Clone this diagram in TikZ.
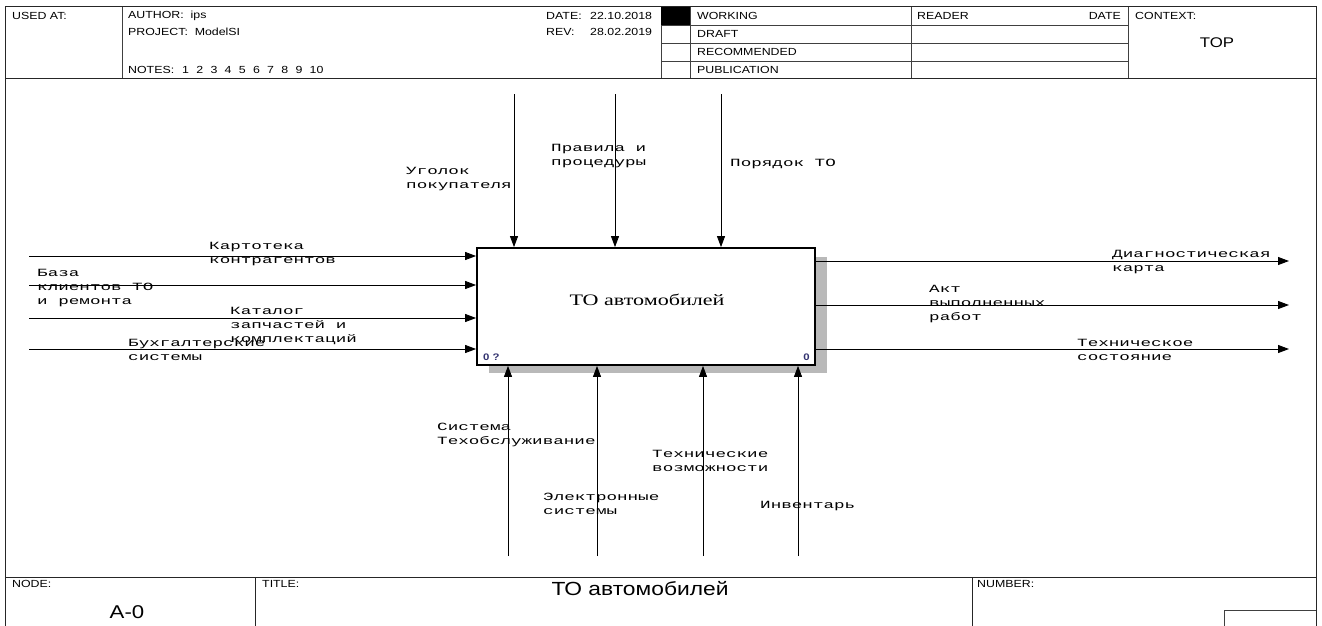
\documentclass[tikz,border=0pt]{standalone}
\usepackage{fontspec}
\setmainfont{Liberation Sans}[FakeStretch=1.2]
\newfontfamily\labfont{Liberation Mono}[FakeStretch=1.6]
\newfontfamily\boxfont{Liberation Serif}[FakeStretch=1.38]
\usetikzlibrary{arrows.meta}
\begin{document}
\begin{tikzpicture}[x=1pt,y=-1pt,
  frame/.style={line width=1pt, draw=black!85},
  thinline/.style={line width=0.7pt, draw=black!75},
  hdr/.style={anchor=west, inner sep=0pt, font=\fontsize{10.3}{11}\selectfont},
  lab/.style={anchor=base west, inner sep=0pt, align=left, font=\labfont\fontsize{11}{14}\selectfont},
  arr/.style={line width=0.9pt, -{Triangle[length=11pt,width=8pt]}},
  corner/.style={inner sep=0pt, font=\bfseries\fontsize{9.5}{10}\selectfont, text=black!70!blue!80}
]
\useasboundingbox (0,0) rectangle (1322,626);
% frame
\draw[frame] (5,626) -- (5,7) -- (1316,7) -- (1316,626);
\draw[frame] (5,78) -- (1316,78);
\draw[frame] (5,577) -- (1316,577);
\foreach \x in {122,661,690,911,1128} \draw[thinline] (\x,7) -- (\x,78);
\fill (661,7) rectangle (690,25);
\foreach \y in {25,43,61} \draw[thinline] (661,\y) -- (1128,\y);
\draw[frame] (255,577) -- (255,626);
\draw[frame] (972,577) -- (972,626);
\draw[thinline] (1224,626) -- (1224,610) -- (1316,610);
% header texts
\node[hdr] (usedat) at (12,16) {USED AT:};
\node[hdr] (author) at (128,16) {AUTHOR:\ \ ips};
\node[hdr] (project) at (128,32) {PROJECT:\ \ ModelSI};
\node[hdr] (notesl) at (128,70) {NOTES:};
\node[hdr] (notesv) at (182,70) {1\hspace{7.3pt}2\hspace{7.3pt}3\hspace{7.3pt}4\hspace{7.3pt}5\hspace{7.3pt}6\hspace{7.3pt}7\hspace{7.3pt}8\hspace{7.3pt}9\hspace{7.3pt}10};
\node[hdr] (datel) at (546,16) {DATE:};
\node[hdr] (datev) at (590,16) {22.10.2018};
\node[hdr] (revl) at (546,32) {REV:};
\node[hdr] (revv) at (590,32) {28.02.2019};
\node[hdr] (working) at (697,16) {WORKING};
\node[hdr] (draft) at (697,34) {DRAFT};
\node[hdr] (recom) at (697,52) {RECOMMENDED};
\node[hdr] (publ) at (697,70) {PUBLICATION};
\node[hdr] (reader) at (917,16) {READER};
\node[hdr, anchor=east] (rdate) at (1121,16) {DATE};
\node[hdr] (context) at (1135,16) {CONTEXT:};
\node[inner sep=0pt, font=\fontsize{14}{15}\selectfont] (top) at (1217,43) {TOP};
% footer texts
\node[hdr] (nodel) at (12,584) {NODE:};
\node[inner sep=0pt, font=\fontsize{18.5}{20}\selectfont] (nodev) at (127,612) {A-0};
\node[hdr] (titlel) at (262,584) {TITLE:};
\node[inner sep=0pt, font=\fontsize{19}{21}\selectfont] (titlev) at (640,589) {ТО автомобилей};
\node[hdr] (numberl) at (977,584) {NUMBER:};
% activity box
\fill[gray!55] (489,257) rectangle (827,373);
\node[draw, line width=1.8pt, fill=white, minimum width=338pt, minimum height=117pt, inner sep=0pt] (box) at (646,306.5) {};
\node[inner sep=0pt, font=\boxfont\fontsize{16}{18}\selectfont] (boxtext) at (647,300) {ТО автомобилей};
\node[corner, anchor=west] (c0) at (483,357) {0 ?};
\node[corner, anchor=east] (c1) at (810,357) {0};
% controls (top)
\coordinate (t1) at (514,94);
\coordinate (t2) at (615,94);
\coordinate (t3) at (721,94);
\foreach \c in {t1,t2,t3} \draw[arr] (\c) -- (\c |- box.north);
\node[lab] (lt1) at (406,188) {Уголок\\покупателя};
\node[lab] (lt2) at (551,165) {Правила и\\процедуры};
\node[lab] (lt3) at (730,166) {Порядок ТО};
% inputs (left)
\coordinate (l1) at (29,256);
\coordinate (l2) at (29,285);
\coordinate (l3) at (29,318);
\coordinate (l4) at (29,349);
\foreach \c in {l1,l2,l3,l4} \draw[arr] (\c) -- (\c -| box.west);
\node[lab] (ll1) at (209,263) {Картотека\\контрагентов};
\node[lab] (ll2) at (37,304) {База\\клиентов ТО\\и ремонта};
\node[lab] (ll3) at (230,342) {Каталог\\запчастей и\\комплектаций};
\node[lab] (ll4) at (128,360) {Бухгалтерские\\системы};
% outputs (right)
\coordinate (r1) at (1289,261);
\coordinate (r2) at (1289,305);
\coordinate (r3) at (1289,349);
\foreach \c in {r1,r2,r3} \draw[arr] (\c -| box.east) -- (\c);
\node[lab] (lr1) at (1112,271) {Диагностическая\\карта};
\node[lab] (lr2) at (929,320) {Акт\\выполненных\\работ};
\node[lab] (lr3) at (1077,360) {Техническое\\состояние};
% mechanisms (bottom)
\coordinate (b1) at (508,556);
\coordinate (b2) at (597,556);
\coordinate (b3) at (703,556);
\coordinate (b4) at (798,556);
\foreach \c in {b1,b2,b3,b4} \draw[arr] (\c) -- (\c |- box.south);
\node[lab] (lb1) at (437,444) {Система\\Техобслуживание};
\node[lab] (lb2) at (543,514) {Электронные\\системы};
\node[lab] (lb3) at (652,471) {Технические\\возможности};
\node[lab] (lb4) at (760,508) {Инвентарь};
\end{tikzpicture}
\end{document}
